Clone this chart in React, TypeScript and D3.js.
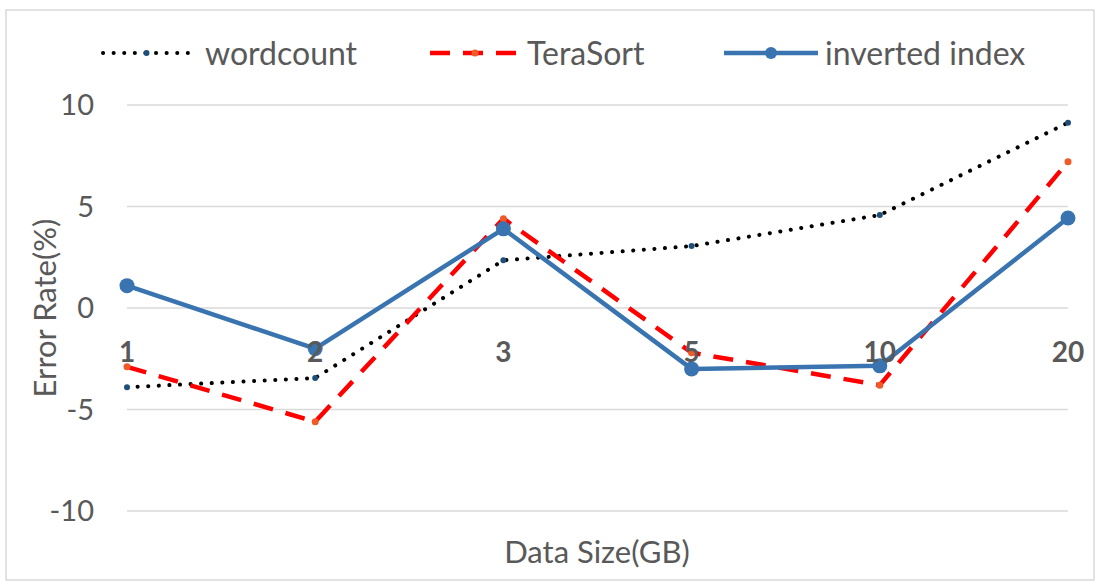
import React from "react";
import * as d3 from "d3";

const categories = ["1", "2", "3", "5", "10", "20"];
const wordcount = [-3.9, -3.45, 2.35, 3.05, 4.58, 9.13];
const teraSort = [-2.9, -5.6, 4.4, -2.2, -3.8, 7.2];
const invertedIndex = [1.1, -2.0, 3.9, -3.0, -2.85, 4.43];
const yTicks = [10, 5, 0, -5, -10];

const W = 1096;
const H = 582;
const FONT = "Lato, 'Noto Sans', sans-serif";

export default function App() {
  const x = d3.scalePoint<string>().domain(categories).range([127, 1068]);
  const y = d3.scaleLinear().domain([-10, 10]).range([511, 105]);
  const line = d3
    .line<number>()
    .x((_, i) => x(categories[i]) as number)
    .y((d) => y(d));

  const series = [
    { name: "wordcount", values: wordcount, color: "#000000", width: 4, dash: "0.1 10.5", cap: "round", marker: "#1F4E79", r: 3 },
    { name: "TeraSort", values: teraSort, color: "#FF0000", width: 4.5, dash: "20 13", cap: "butt", marker: "#F05A28", r: 3.5 },
    { name: "inverted index", values: invertedIndex, color: "#3A74B0", width: 4.5, dash: "", cap: "butt", marker: "#3A74B0", r: 7.5 },
  ];

  const legend = [
    { x1: 103, x2: 190, tx: 205 },
    { x1: 430, x2: 520, tx: 527 },
    { x1: 724, x2: 818, tx: 825 },
  ];

  return (
    <svg width={W} height={H} style={{ position: "absolute", left: 0, top: 0 }}>
      <rect x={0} y={0} width={W} height={H} fill="#fff" />
      <rect x={6} y={10} width={1088} height={570} fill="#fff" stroke="#D9D9D9" strokeWidth={1.5} />
      {yTicks.map((t) => (
        <g key={t}>
          <line x1={127} x2={1068} y1={y(t)} y2={y(t)} stroke="#D9D9D9" strokeWidth={1.5} />
          <text x={94} y={y(t)} dy="0.36em" textAnchor="end" fontFamily={FONT} fontSize={29} fill="#595959">
            {t}
          </text>
        </g>
      ))}
      {series.map((s) => (
        <g key={s.name}>
          <path
            d={line(s.values) || ""}
            fill="none"
            stroke={s.color}
            strokeWidth={s.width}
            strokeDasharray={s.dash || undefined}
            strokeLinecap={s.cap as any}
            strokeLinejoin="round"
          />
          {s.values.map((v, i) => (
            <circle key={i} cx={x(categories[i]) as number} cy={y(v)} r={s.r} fill={s.marker} />
          ))}
        </g>
      ))}
      {categories.map((c) => (
        <text
          key={c}
          x={x(c) as number}
          y={y(0) + 44}
          dy="0.36em"
          textAnchor="middle"
          fontFamily={FONT}
          fontWeight="bold"
          fontSize={28}
          fill="#595959"
        >
          {c}
        </text>
      ))}
      {series.map((s, i) => {
        const L = legend[i];
        const mx = (L.x1 + L.x2) / 2;
        return (
          <g key={s.name}>
            <line
              x1={L.x1}
              x2={L.x2}
              y1={53}
              y2={53}
              stroke={s.color}
              strokeWidth={s.width}
              strokeDasharray={s.dash || undefined}
              strokeLinecap={s.cap as any}
            />
            <circle cx={mx} cy={53} r={s.r === 7.5 ? 6 : s.r} fill={s.marker} />
            <text x={L.tx} y={53} dy="0.36em" fontFamily={FONT} fontSize={32} fill="#595959">
              {s.name}
            </text>
          </g>
        );
      })}
      <text
        transform={`translate(45, ${y(0)}) rotate(-90)`}
        textAnchor="middle"
        dy="0.36em"
        fontFamily={FONT}
        fontSize={31}
        fill="#595959"
      >
        Error Rate(%)
      </text>
      <text x={597} y={552} dy="0.36em" textAnchor="middle" fontFamily={FONT} fontSize={31} fill="#595959">
        Data Size(GB)
      </text>
    </svg>
  );
}
